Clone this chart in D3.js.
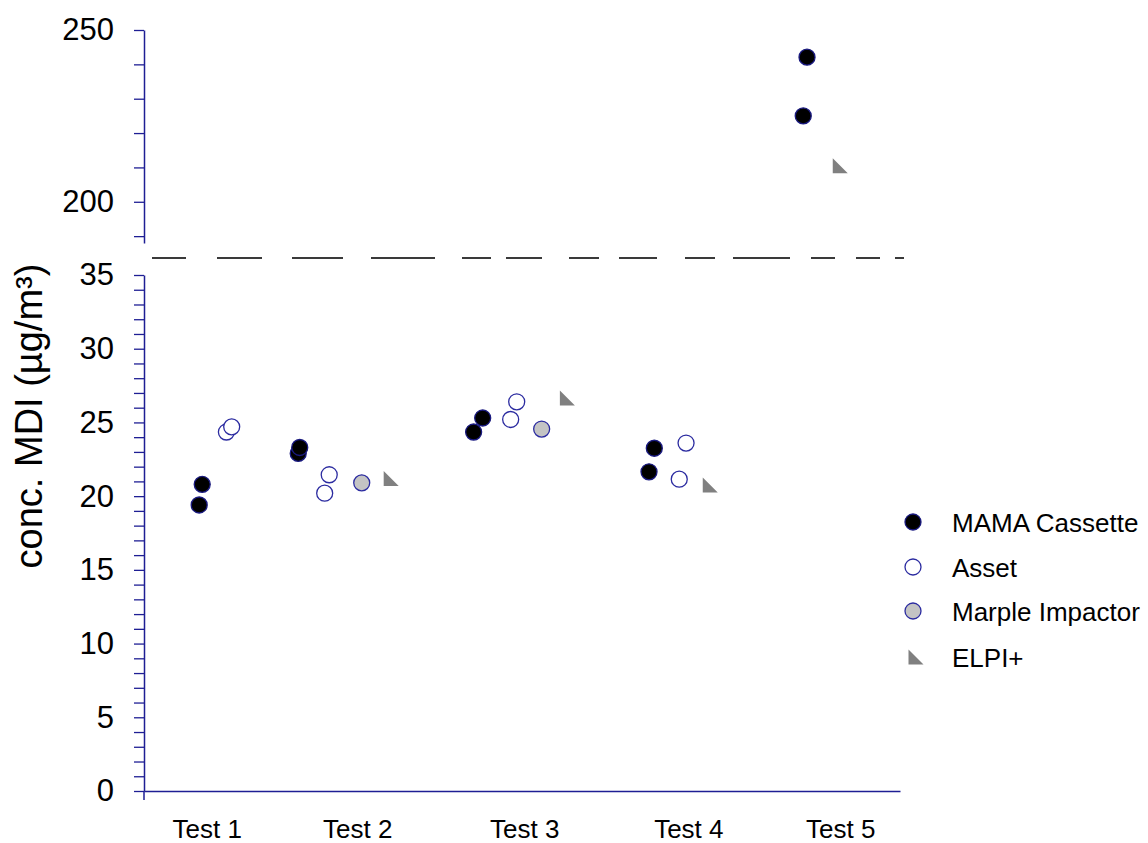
<!DOCTYPE html>
<html>
<head>
<meta charset="utf-8">
<script src="https://cdn.jsdelivr.net/npm/d3@7"></script>
<style>
  body { margin: 0; background: #fff; }
  svg { display: block; font-family: Arial, "Liberation Sans", sans-serif; }
</style>
</head>
<body>
<script>
// categories and where their labels sit on the x position scale
const tests = ["Test 1", "Test 2", "Test 3", "Test 4", "Test 5"];
const testPos = [0.83, 2.82, 5.03, 7.20, 9.21];

// series: x position (jittered per test) and concentration
const mamaX = [0.77, 0.73, 2.04, 2.06, 4.48, 4.36, 6.75, 6.68, 8.77, 8.72];
const mamaY = [20.8, 19.4, 22.9, 23.3, 25.3, 24.35, 23.25, 21.65, 242.1, 225.0];

const assetX = [1.09, 1.16, 2.45, 2.39, 4.93, 4.85, 7.17, 7.08];
const assetY = [24.35, 24.7, 21.45, 20.2, 26.4, 25.2, 23.6, 21.15];

const marpleX = [2.88, 5.26];
const marpleY = [20.9, 24.55];

const elpiX = [3.27, 5.6, 7.49, 9.21];
const elpiY = [21.2, 26.65, 20.75, 210.5];

const legendNames = ["MAMA Cassette", "Asset", "Marple Impactor", "ELPI+"];

const lowerTicks = d3.range(0, 36, 1);
const upperTicks = d3.range(190, 251, 10);

const width = 1148, height = 843;
const axisColor = "#1e1e94";
const breakValue = 35;

const x = d3.scaleLinear().domain([0, 10]).range([144, 900]);
const yLow = d3.scaleLinear().domain([0, 35]).range([791, 275]);
const yHigh = d3.scaleLinear().domain([188, 250]).range([243, 30]);
const yOf = v => v > breakValue ? yHigh(v) : yLow(v);

const svg = d3.select("body").append("svg")
  .attr("width", width)
  .attr("height", height);

// axes
const lowAxis = d3.axisLeft(yLow)
  .tickValues(lowerTicks)
  .tickSize(10)
  .tickSizeOuter(0)
  .tickPadding(20)
  .tickFormat(d => d % 5 === 0 ? d : "");

const highAxis = d3.axisLeft(yHigh)
  .tickValues(upperTicks)
  .tickSize(10)
  .tickSizeOuter(0)
  .tickPadding(20)
  .tickFormat(d => d % 50 === 0 ? d : "");

[lowAxis, highAxis].forEach(ax => {
  const g = svg.append("g")
    .attr("transform", "translate(144,0)")
    .call(ax);
  g.select(".domain").attr("stroke", axisColor).attr("stroke-width", 1.5);
  g.selectAll(".tick line").attr("stroke", axisColor).attr("stroke-width", 1.3);
  g.selectAll(".tick text")
    .attr("fill", "#000")
    .style("font-size", "31px");
});

// lower axis runs a little past zero
svg.append("line")
  .attr("x1", 144).attr("x2", 144)
  .attr("y1", yLow(0)).attr("y2", yLow(0) + 9)
  .attr("stroke", axisColor).attr("stroke-width", 1.5);

const xAxis = d3.axisBottom(x)
  .tickValues(testPos)
  .tickSize(0)
  .tickPadding(29)
  .tickFormat((d, i) => tests[i]);

const gx = svg.append("g")
  .attr("transform", `translate(0,${yLow(0)})`)
  .call(xAxis);
gx.select(".domain").attr("stroke", axisColor).attr("stroke-width", 1.5);
gx.selectAll(".tick text").attr("fill", "#000").style("font-size", "26px");

// axis break
svg.append("line")
  .attr("x1", 152).attr("x2", 904)
  .attr("y1", 258).attr("y2", 258)
  .attr("stroke", "#3a3a3a")
  .attr("stroke-width", 2)
  .attr("stroke-dasharray", "34,31,45,30,51,28,64,27,29,15,36,27,30,20,38,28,30,18,57,21,24,21,24,15,9,100");

// y label
svg.append("text")
  .attr("transform", "translate(42,416) rotate(-90)")
  .attr("text-anchor", "middle")
  .style("font-size", "38px")
  .text("conc. MDI (µg/m³)");

// markers
const tri = d3.line()([[-7.5, -7.5], [-7.5, 7.5], [7.5, 7.5]]) + "Z";

function circles(xs, ys, fill, stroke) {
  svg.append("g").selectAll("circle")
    .data(xs.map((d, i) => [d, ys[i]]))
    .enter()
    .append("circle")
    .attr("cx", d => x(d[0]))
    .attr("cy", d => yOf(d[1]))
    .attr("r", 8)
    .attr("fill", fill)
    .attr("stroke", stroke)
    .attr("stroke-width", 1.3);
}

circles(mamaX, mamaY, "#000", "#1a1a80");
circles(assetX, assetY, "#fff", "#2b2ba0");
circles(marpleX, marpleY, "#c4c4c4", "#2b2ba0");

svg.append("g").selectAll("path")
  .data(elpiX.map((d, i) => [d, elpiY[i]]))
  .enter()
  .append("path")
  .attr("d", tri)
  .attr("transform", d => `translate(${x(d[0])},${yOf(d[1])})`)
  .attr("fill", "#808080");

// legend
const legend = svg.append("g");
const rowY = [522, 567, 611, 657];
const legendStyle = [
  { fill: "#000", stroke: "#1a1a80" },
  { fill: "#fff", stroke: "#2b2ba0" },
  { fill: "#c4c4c4", stroke: "#2b2ba0" },
  null
];

legendNames.forEach((name, i) => {
  if (legendStyle[i]) {
    legend.append("circle")
      .attr("cx", 913).attr("cy", rowY[i]).attr("r", 8)
      .attr("fill", legendStyle[i].fill)
      .attr("stroke", legendStyle[i].stroke)
      .attr("stroke-width", 1.3);
  } else {
    legend.append("path")
      .attr("d", tri)
      .attr("transform", `translate(916,${rowY[i]})`)
      .attr("fill", "#808080");
  }
  legend.append("text")
    .attr("x", 952)
    .attr("y", rowY[i] + 9.5)
    .style("font-size", "26px")
    .text(name);
});
</script>
</body>
</html>
